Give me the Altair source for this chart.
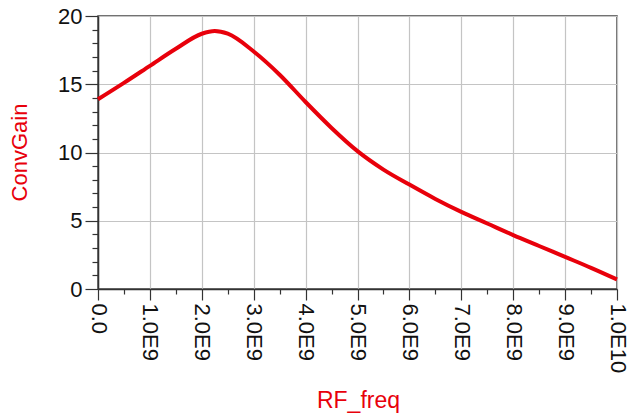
import altair as alt
import pandas as pd

# RF frequency sweep (Hz) and conversion gain (dB)
rf_freq = [0.0, 0.5e9, 1.0e9, 1.5e9, 2.0e9, 2.25e9, 2.5e9, 3.0e9, 3.5e9, 4.0e9,
           4.5e9, 5.0e9, 5.5e9, 6.0e9, 6.5e9, 7.0e9, 7.5e9, 8.0e9, 8.5e9,
           9.0e9, 9.5e9, 1.0e10]
conv_gain = [13.9, 15.1, 16.35, 17.6, 18.7, 18.9, 18.7, 17.4, 15.7, 13.7,
             11.8, 10.1, 8.75, 7.65, 6.6, 5.65, 4.8, 3.95, 3.15,
             2.35, 1.55, 0.7]

# tick positions: majors carry labels and grid, the rest are minor ticks
x_ticks = [i * 0.5e9 for i in range(21)]
y_ticks = list(range(0, 21))

df = pd.DataFrame({"RF_freq": rf_freq, "ConvGain": conv_gain})

FONT = "Liberation Sans"
RED = "#e8000b"

x_axis = alt.Axis(
    values=x_ticks,
    labelExpr="datum.value === 0 ? '0.0' : (datum.value % 1e9 !== 0 ? '' : "
              "(datum.value < 1e10 ? format(datum.value / 1e9, '.1f') + 'E9' : '1.0E10'))",
    labelAngle=90,
    labelFont=FONT,
    labelFontSize=22,
    labelColor="#111111",
    labelPadding=3,
    labelOverlap=False,
    labelBound=False,
    labelFlush=False,
    tickSize={"condition": {"test": "datum.value % 1e9 === 0", "value": 11}, "value": 5},
    tickColor="#333333",
    tickWidth=1.2,
    domainColor="#333333",
    domainWidth=1.5,
    grid=True,
    gridColor="#c4c4c4",
    gridWidth=1.2,
    gridOpacity={"condition": {"test": "datum.value % 1e9 === 0", "value": 1}, "value": 0},
    title="RF_freq",
    titleFont=FONT,
    titleFontSize=23,
    titleFontWeight="normal",
    titleColor=RED,
    titleX=260,
    titleY=118,
    titleAlign="center",
    titleBaseline="alphabetic",
    titleAngle=0,
)

y_axis = alt.Axis(
    values=y_ticks,
    labelExpr="datum.value % 5 === 0 ? format(datum.value, 'd') : ''",
    labelFont=FONT,
    labelFontSize=22,
    labelColor="#111111",
    labelPadding=3,
    labelBaseline="middle",
    labelOverlap=False,
    labelBound=False,
    labelFlush=False,
    tickSize={"condition": {"test": "datum.value % 5 === 0", "value": 13}, "value": 6},
    tickColor="#333333",
    tickWidth=1.2,
    domainColor="#333333",
    domainWidth=1.5,
    grid=True,
    gridColor="#c4c4c4",
    gridWidth=1.2,
    gridOpacity={"condition": {"test": "datum.value % 5 === 0 && datum.value > 0", "value": 1}, "value": 0},
    title="ConvGain",
    titleFont=FONT,
    titleFontSize=22,
    titleFontWeight="normal",
    titleColor=RED,
    titleAngle=-90,
    titleX=-79,
    titleY=136,
    titleAlign="center",
    titleBaseline="middle",
)

chart = (
    alt.Chart(df)
    .mark_line(color=RED, strokeWidth=4, interpolate="monotone")
    .encode(
        x=alt.X("RF_freq:Q", scale=alt.Scale(domain=[0, 1e10], nice=False, zero=False), axis=x_axis),
        y=alt.Y("ConvGain:Q", scale=alt.Scale(domain=[0, 20], nice=False), axis=y_axis),
    )
    .properties(
        width=519,
        height=273,
        autosize=alt.AutoSizeParams(type="none"),
        padding={"left": 98, "top": 16, "right": 14, "bottom": 128},
        background="white",
    )
    .configure_view(stroke="#444444", strokeWidth=1.5)
)

chart.save("out.html", embed_options={"renderer": "svg", "actions": False})
